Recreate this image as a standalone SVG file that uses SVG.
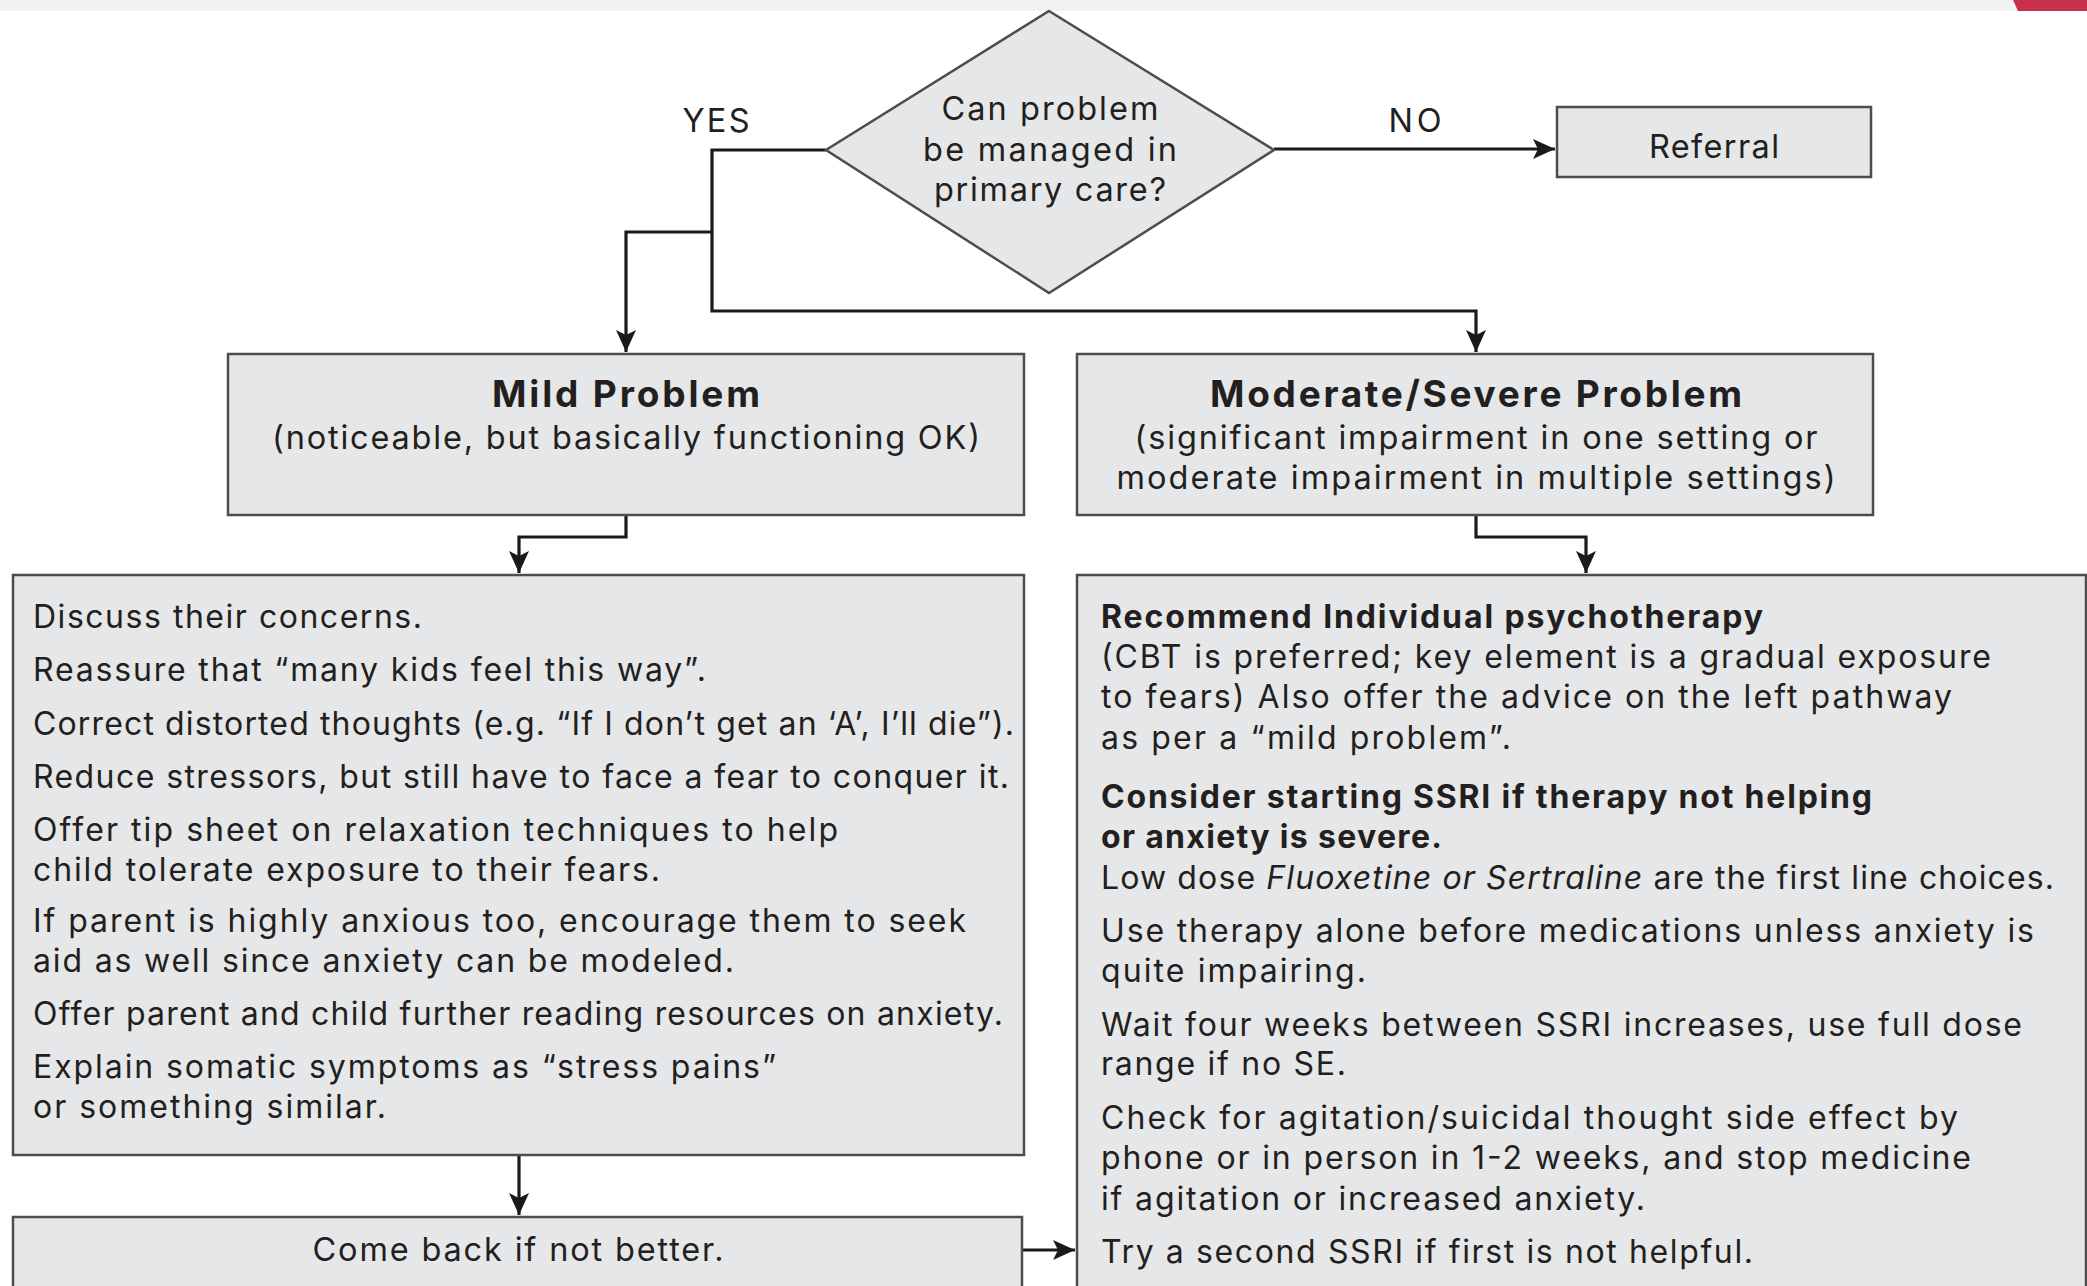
<svg xmlns="http://www.w3.org/2000/svg" width="2087" height="1286" viewBox="0 0 2087 1286">
<defs>
<marker id="ah" markerUnits="userSpaceOnUse" markerWidth="24" markerHeight="20" refX="22" refY="10" orient="auto">
<path d="M0,0 L22,10 L0,20 L5,10 Z" fill="#1a1a1a"/>
</marker>
</defs>
<style>
.box{fill:#e6e7e8;stroke:#4d4d4f;stroke-width:2.5}
.t{font-family:Inter,"Open Sans","Liberation Sans",sans-serif;font-size:32px;fill:#231f20}
.s{font-size:32.5px}
.b{font-weight:bold}
.h{font-family:Inter,"Open Sans","Liberation Sans",sans-serif;font-size:37px;font-weight:bold;fill:#231f20}
.c{text-anchor:middle}
.ln{fill:none;stroke:#1a1a1a;stroke-width:3.2}
</style>
<rect x="0" y="0" width="2087" height="11" fill="#f2f2f2"/>
<polygon points="2013,0 2087,0 2087,11 2018,11" fill="#c9304c"/>
<g id="connectors">
<polyline class="ln" points="826,150 712,150 712,311 1476,311 1476,352" marker-end="url(#ah)"/>
<polyline class="ln" points="712,232 626,232 626,352" marker-end="url(#ah)"/>
<line class="ln" x1="1274" y1="149" x2="1555" y2="149" marker-end="url(#ah)"/>
<polyline class="ln" points="626,515 626,537 519,537 519,573" marker-end="url(#ah)"/>
<polyline class="ln" points="1476,515 1476,537 1586,537 1586,573" marker-end="url(#ah)"/>
<line class="ln" x1="519" y1="1155" x2="519" y2="1215" marker-end="url(#ah)"/>
<line class="ln" x1="1022" y1="1250" x2="1075" y2="1250" marker-end="url(#ah)"/>
<text class="t s c" x="716" y="132" textLength="67" lengthAdjust="spacing">YES</text>
<text class="t s c" x="1415" y="132" textLength="53" lengthAdjust="spacing">NO</text>
</g>
<g id="decision">
<polygon class="box" points="1049,11 1274,150 1049,293 826,150"/>
<text class="t s c" x="1050" y="120" textLength="217" lengthAdjust="spacing">Can problem</text>
<text class="t s c" x="1050" y="161" textLength="254" lengthAdjust="spacing">be managed in</text>
<text class="t s c" x="1050" y="201" textLength="232" lengthAdjust="spacing">primary care?</text>
</g>
<g id="referral">
<rect class="box" x="1557" y="107" width="314" height="70"/>
<text class="t s c" x="1714" y="158" textLength="130" lengthAdjust="spacing">Referral</text>
</g>
<g id="mild">
<rect class="box" x="228" y="354" width="796" height="161"/>
<text class="h c" x="626" y="407" textLength="268" lengthAdjust="spacing">Mild Problem</text>
<text class="t s c" x="626" y="449" textLength="708" lengthAdjust="spacing">(noticeable, but basically functioning OK)</text>
</g>
<g id="moderate">
<rect class="box" x="1077" y="354" width="796" height="161"/>
<text class="h c" x="1476" y="407" textLength="532" lengthAdjust="spacing">Moderate/Severe Problem</text>
<text class="t s c" x="1476" y="449" textLength="683" lengthAdjust="spacing">(significant impairment in one setting or</text>
<text class="t s c" x="1476" y="489" textLength="719" lengthAdjust="spacing">moderate impairment in multiple settings)</text>
</g>
<g id="mild-advice">
<rect class="box" x="13" y="575" width="1011" height="580"/>
<text class="t" x="33" y="628" textLength="389" lengthAdjust="spacing">Discuss their concerns.</text>
<text class="t" x="33" y="681" textLength="673" lengthAdjust="spacing">Reassure that “many kids feel this way”.</text>
<text class="t" x="33" y="735" textLength="981" lengthAdjust="spacing">Correct distorted thoughts (e.g. “If I don’t get an ‘A’, I’ll die”).</text>
<text class="t" x="33" y="788" textLength="976" lengthAdjust="spacing">Reduce stressors, but still have to face a fear to conquer it.</text>
<text class="t" x="33" y="841" textLength="805" lengthAdjust="spacing">Offer tip sheet on relaxation techniques to help</text>
<text class="t" x="33" y="881" textLength="627" lengthAdjust="spacing">child tolerate exposure to their fears.</text>
<text class="t" x="33" y="932" textLength="933" lengthAdjust="spacing">If parent is highly anxious too, encourage them to seek</text>
<text class="t" x="33" y="972" textLength="701" lengthAdjust="spacing">aid as well since anxiety can be modeled.</text>
<text class="t" x="33" y="1025" textLength="970" lengthAdjust="spacing">Offer parent and child further reading resources on anxiety.</text>
<text class="t" x="33" y="1078" textLength="743" lengthAdjust="spacing">Explain somatic symptoms as “stress pains”</text>
<text class="t" x="33" y="1118" textLength="353" lengthAdjust="spacing">or something similar.</text>
</g>
<g id="come-back">
<rect class="box" x="13" y="1217" width="1009" height="80"/>
<text class="t s c" x="518" y="1261" textLength="411" lengthAdjust="spacing">Come back if not better.</text>
</g>
<g id="moderate-advice">
<rect class="box" x="1077" y="575" width="1009" height="722"/>
<text class="t b" x="1101" y="628" textLength="662" lengthAdjust="spacing">Recommend Individual psychotherapy</text>
<text class="t" x="1101" y="668" textLength="890" lengthAdjust="spacing">(CBT is preferred; key element is a gradual exposure</text>
<text class="t" x="1101" y="708" textLength="851" lengthAdjust="spacing">to fears) Also offer the advice on the left pathway</text>
<text class="t" x="1101" y="749" textLength="410" lengthAdjust="spacing">as per a “mild problem”.</text>
<text class="t b" x="1101" y="808" textLength="771" lengthAdjust="spacing">Consider starting SSRI if therapy not helping</text>
<text class="t b" x="1101" y="848" textLength="341" lengthAdjust="spacing">or anxiety is severe.</text>
<text class="t" x="1101" y="889" textLength="953" lengthAdjust="spacing">Low dose <tspan font-style="italic">Fluoxetine or Sertraline</tspan> are the first line choices.</text>
<text class="t" x="1101" y="942" textLength="933" lengthAdjust="spacing">Use therapy alone before medications unless anxiety is</text>
<text class="t" x="1101" y="982" textLength="265" lengthAdjust="spacing">quite impairing.</text>
<text class="t" x="1101" y="1036" textLength="921" lengthAdjust="spacing">Wait four weeks between SSRI increases, use full dose</text>
<text class="t" x="1101" y="1075" textLength="245" lengthAdjust="spacing">range if no SE.</text>
<text class="t" x="1101" y="1129" textLength="857" lengthAdjust="spacing">Check for agitation/suicidal thought side effect by</text>
<text class="t" x="1101" y="1169" textLength="870" lengthAdjust="spacing">phone or in person in 1-2 weeks, and stop medicine</text>
<text class="t" x="1101" y="1210" textLength="544" lengthAdjust="spacing">if agitation or increased anxiety.</text>
<text class="t" x="1101" y="1263" textLength="652" lengthAdjust="spacing">Try a second SSRI if first is not helpful.</text>
</g>
</svg>
